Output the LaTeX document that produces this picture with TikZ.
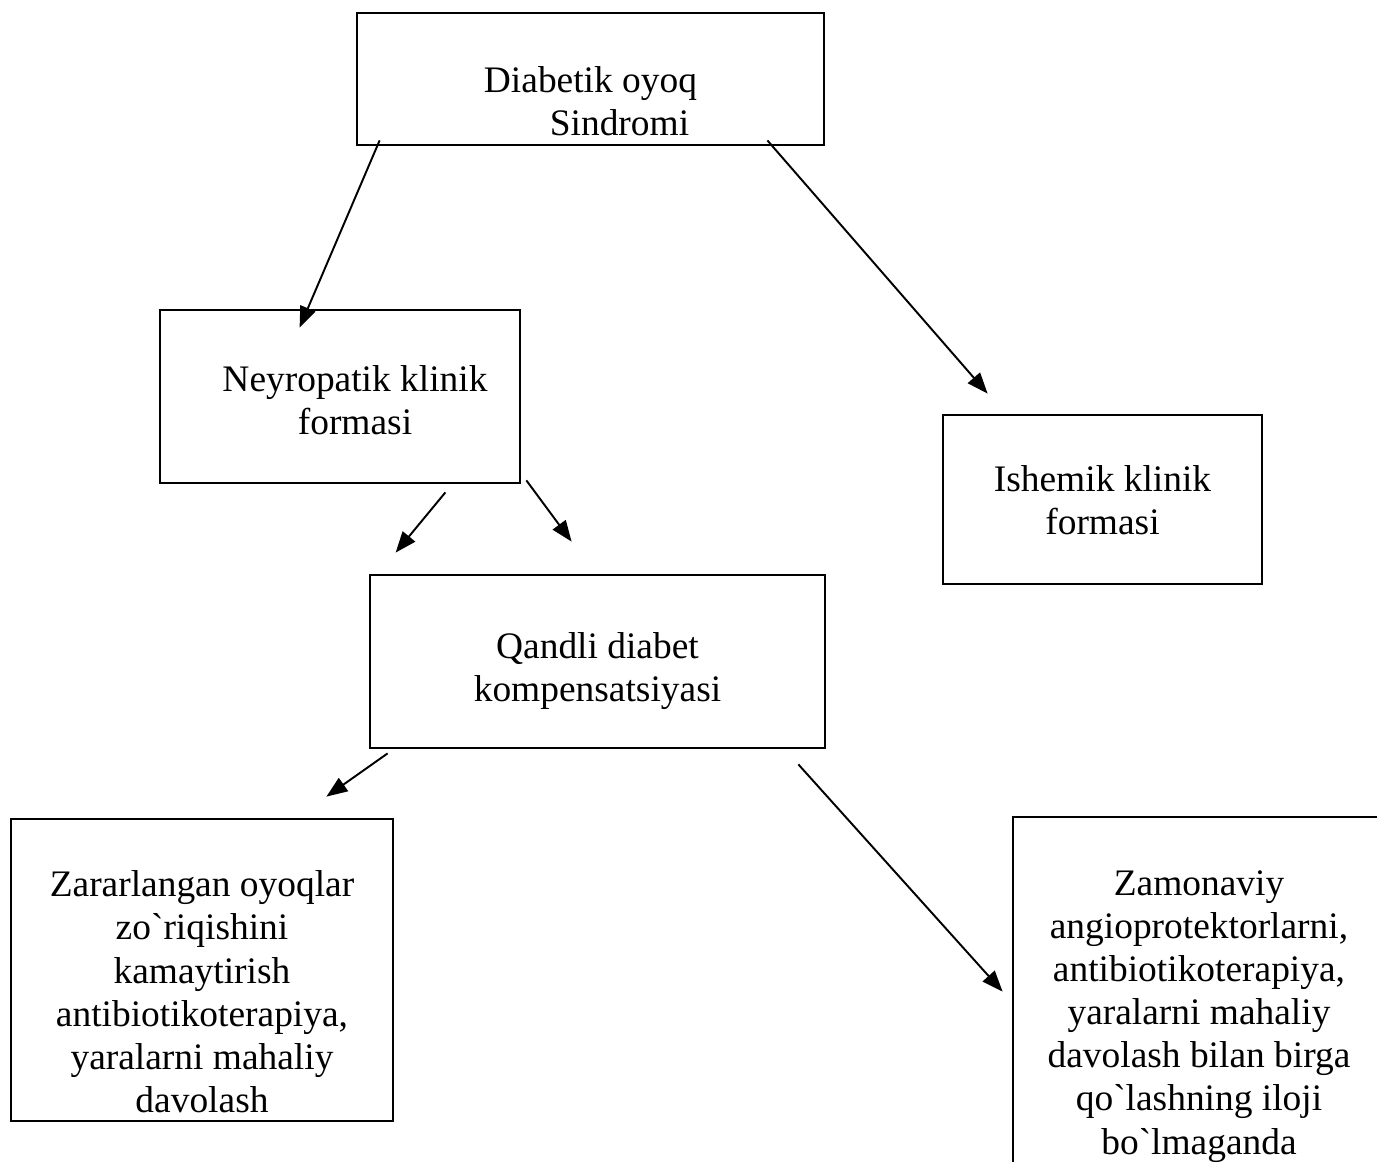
\documentclass[tikz,border=0pt]{standalone}
\usepackage{fontspec}
\setmainfont{Liberation Serif}
\usetikzlibrary{arrows.meta}

\tikzset{
  box/.style={rectangle, draw, line width=1.6pt, inner sep=0pt},
  txt/.style={align=center, inner sep=0pt, font=\fontsize{21.3}{24.5}\selectfont},
  >={Triangle[length=0.42cm, width=0.32cm]}
}

\begin{document}
\begin{tikzpicture}[x=0.02cm, y=-0.02cm]
    \useasboundingbox (0,0) rectangle (1377,1162);
    \clip (0,0) rectangle (1377,1162);

    % Boxes
    \node[box, minimum width=9.34cm, minimum height=2.64cm] (diab) at (590.5,79) {};
    \node[box, minimum width=7.2cm, minimum height=3.46cm] (neyro) at (340,396.5) {};
    \node[box, minimum width=6.38cm, minimum height=3.38cm] (ishem) at (1102.5,499.5) {};
    \node[box, minimum width=9.1cm, minimum height=3.46cm] (qandli) at (597.5,661.5) {};
    \node[box, minimum width=7.64cm, minimum height=6.04cm] (zarar) at (202,970) {};
    \node[box, minimum width=7.44cm, minimum height=7.8cm] (zamon) at (1199,1012) {};

    % Texts
    \node[txt, anchor=north] (diabT) at ([yshift=-1.1cm]diab.north) {Diabetik oyoq\\\hspace*{1.16cm}Sindromi};
    \node[txt, anchor=north] (neyroT) at ([xshift=0.3cm, yshift=-1.14cm]neyro.north) {Neyropatik klinik\\formasi};
    \node[txt, anchor=north] (ishemT) at ([yshift=-1.04cm]ishem.north) {Ishemik klinik\\formasi};
    \node[txt, anchor=north] (qandliT) at ([yshift=-1.18cm]qandli.north) {Qandli diabet\\kompensatsiyasi};
    \node[txt, anchor=north] (zararT) at ([yshift=-1.06cm]zarar.north) {Zararlangan oyoqlar\\zo\textasciigrave riqishini\\kamaytirish\\antibiotikoterapiya,\\yaralarni mahaliy\\davolash};
    \node[txt, anchor=north] (zamonT) at ([yshift=-1.1cm]zamon.north) {Zamonaviy\\angioprotektorlarni,\\antibiotikoterapiya,\\yaralarni mahaliy\\davolash bilan birga\\qo\textasciigrave lashning iloji\\bo\textasciigrave lmaganda};

    % Arrows
    \draw[->, line width=1.1pt] ([xshift=0.48cm, yshift=0.12cm]diab.south west) -- ([xshift=2.82cm, yshift=-0.38cm]neyro.north west);
    \draw[->, line width=1.1pt] ([xshift=-1.16cm, yshift=0.12cm]diab.south east) -- ([xshift=0.92cm, yshift=0.4cm]ishem.north west);
    \draw[->, line width=1.1pt] ([xshift=-1.52cm, yshift=-0.16cm]neyro.south east) -- ([xshift=0.54cm, yshift=0.42cm]qandli.north west);
    \draw[->, line width=1.1pt] ([xshift=0.1cm, yshift=0.08cm]neyro.south east) -- ([xshift=4.06cm, yshift=0.64cm]qandli.north west);
    \draw[->, line width=1.1pt] ([xshift=0.38cm, yshift=-0.08cm]qandli.south west) -- ([xshift=-1.36cm, yshift=0.42cm]zarar.north east);
    \draw[->, line width=1.1pt] ([xshift=-0.56cm, yshift=-0.3cm]qandli.south east) -- ([xshift=-0.18cm, yshift=-3.52cm]zamon.north west);
\end{tikzpicture}
\end{document}
